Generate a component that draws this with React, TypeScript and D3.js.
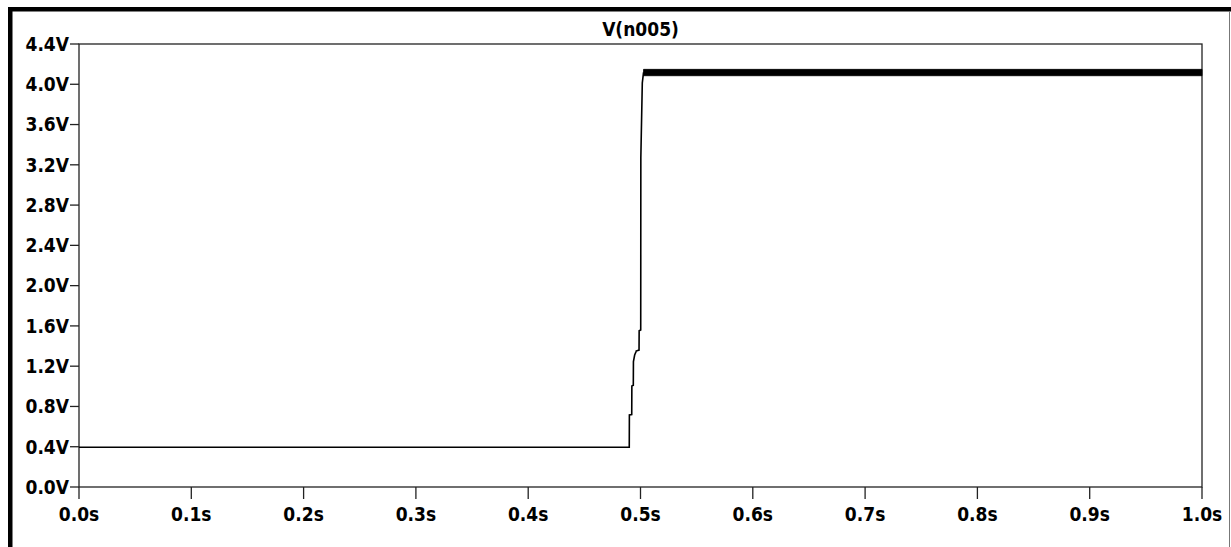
import React from "react";
import * as d3 from "d3";

// ---- data ----
const titleText = "V(n005)";
const yTicks = [0.0, 0.4, 0.8, 1.2, 1.6, 2.0, 2.4, 2.8, 3.2, 3.6, 4.0, 4.4];
const xTicks = [0.0, 0.1, 0.2, 0.3, 0.4, 0.5, 0.6, 0.7, 0.8, 0.9, 1.0];
// rising edge trace (time in s, voltage in V)
const traceTime = [0.0, 0.49, 0.4901, 0.4922, 0.4923, 0.4936, 0.4937, 0.4948, 0.496, 0.4961, 0.4987, 0.4988, 0.5002, 0.5003, 0.5016, 0.5027];
const traceVolt = [0.395, 0.395, 0.715, 0.72, 1.003, 1.01, 1.245, 1.311, 1.344, 1.35, 1.36, 1.552, 1.56, 3.268, 4.013, 4.118];
// ripple envelope after the edge
const rippleTime = [0.5027, 1.0];
const rippleMin = [4.085, 4.085];
const rippleMax = [4.148, 4.148];

const W = 1231;
const H = 547;
const M = { left: 79, right: 1202, top: 44, bottom: 487 };
const FONT = "'Liberation Sans Narrow', 'DejaVu Sans Condensed', 'Arial Narrow', sans-serif";

export default function App() {
  const x = d3.scaleLinear().domain([0, 1]).range([M.left, M.right]);
  const y = d3.scaleLinear().domain([0, 4.4]).range([M.bottom, M.top]);

  const traceData = traceTime.map((t, i) => [t, traceVolt[i]] as [number, number]);
  const line = d3
    .line<[number, number]>()
    .x((d) => x(d[0]))
    .y((d) => y(d[1]));

  const rippleData = rippleTime.map((t, i) => ({ t, lo: rippleMin[i], hi: rippleMax[i] }));
  const area = d3
    .area<{ t: number; lo: number; hi: number }>()
    .x((d) => x(d.t))
    .y0((d) => y(d.lo))
    .y1((d) => y(d.hi));

  return (
    <svg
      width={W}
      height={H}
      style={{ position: "absolute", left: 0, top: 0, background: "#fff" }}
    >
      {/* window frame */}
      <rect x={0} y={0} width={W} height={H} fill="#fff" />
      <rect x={8} y={7} width={W - 8} height={4.5} fill="#000" />
      <rect x={8} y={7} width={4.5} height={H - 7} fill="#000" />
      <line x1={1229.5} y1={11} x2={1229.5} y2={H} stroke="#777" strokeWidth={1} />

      {/* title */}
      <text
        x={(M.left + M.right) / 2}
        y={36}
        textAnchor="middle"
        fontFamily={FONT}
        fontWeight="bold"
        fontSize={19}
        fill="#000"
      >
        {titleText}
      </text>

      {/* plot frame */}
      <rect
        x={M.left}
        y={M.top}
        width={M.right - M.left}
        height={M.bottom - M.top}
        fill="none"
        stroke="#222"
        strokeWidth={1.3}
      />

      {/* y ticks */}
      {yTicks.map((v) => (
        <g key={"y" + v}>
          <line x1={M.left - 9} x2={M.left} y1={y(v)} y2={y(v)} stroke="#222" strokeWidth={1.3} />
          <text
            x={M.left - 10}
            y={y(v)}
            dy="0.36em"
            textAnchor="end"
            fontFamily={FONT}
            fontWeight="bold"
            fontSize={19}
            fill="#000"
          >
            {v.toFixed(1) + "V"}
          </text>
        </g>
      ))}

      {/* x ticks */}
      {xTicks.map((t) => (
        <g key={"x" + t}>
          <line x1={x(t)} x2={x(t)} y1={M.bottom} y2={M.bottom + 12} stroke="#222" strokeWidth={1.3} />
          <text
            x={x(t)}
            y={521}
            textAnchor="middle"
            fontFamily={FONT}
            fontWeight="bold"
            fontSize={19}
            fill="#000"
          >
            {t.toFixed(1) + "s"}
          </text>
        </g>
      ))}

      {/* trace */}
      <path d={line(traceData) || ""} fill="none" stroke="#000" strokeWidth={1.6} />
      <path d={area(rippleData) || ""} fill="#000" stroke="#000" strokeWidth={0.8} />
    </svg>
  );
}
